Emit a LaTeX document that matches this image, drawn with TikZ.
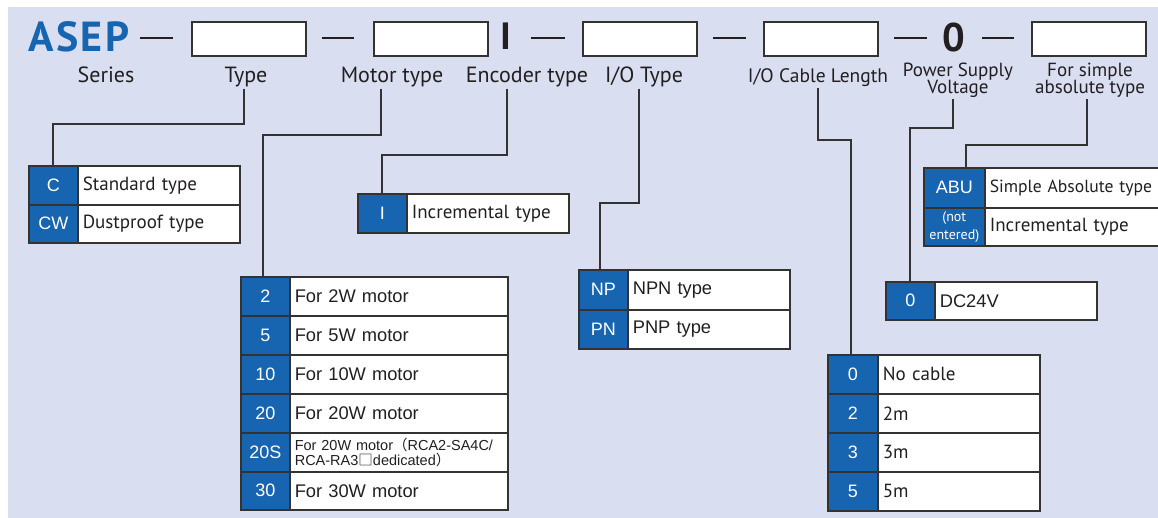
\documentclass[tikz,border=0pt]{standalone}
\usepackage{fontspec}
\setmainfont{PT Sans}
\newfontfamily\hv{Liberation Sans}
\newfontfamily\cjk{Noto Sans CJK JP}
\definecolor{bg}{HTML}{D9DEF0}
\definecolor{ib}{HTML}{1765B0}
\definecolor{bd}{HTML}{333333}
\definecolor{tx}{HTML}{231F20}
\tikzset{
  x=1pt, y=-1pt,
  codecell/.style={draw=bd, line width=1.6pt, fill=ib, text=white, inner sep=0pt, anchor=north west, align=center, font=\hv\fontsize{18}{19}\selectfont},
  desccell/.style={draw=bd, line width=1.6pt, fill=white, text=tx, inner xsep=5pt, inner ysep=0pt, anchor=north west, align=left},
  mbox/.style={draw=bd, line width=1.6pt, fill=white, anchor=north west, inner sep=0pt, minimum width=114pt, minimum height=34pt},
  dsh/.style={draw=tx, line width=1.8pt},
  lbl/.style={text=tx, inner sep=1pt, anchor=base, font=\fontsize{22}{24}\selectfont},
  conn/.style={draw=bd, line width=1.4pt},
  pf/.style={font=\fontsize{19}{20}\selectfont},
  hf/.style={font=\hv\fontsize{18.3}{19}\selectfont},
}
\newcommand\trow[9]{%
  \pgfmathsetmacro\tw{#5-#4-10}%
  \node[codecell, minimum width=#4pt, minimum height=#6pt] (#1c) at (#2,#3) {#7};
  \node[desccell, #9, text width=\tw pt, minimum height=#6pt] (#1d) at (#2+#4,#3) {#8};
}
\begin{document}
\begin{tikzpicture}
\useasboundingbox (0,0) rectangle (1158,518);
\fill[bg] (8,7) rectangle (1158,518);
% header
\node[anchor=base west, inner sep=0pt, text=ib, font=\bfseries\fontsize{42}{44}\selectfont] (asep) at (28,52) {A\kern2.5pt S\kern2.5pt E\kern2.5pt P};
\coordinate (d1a) at (140,38); \coordinate (d1b) at (173,38);
\draw[dsh] (d1a) -- (d1b);
\node[mbox] (b1) at (191,21) {};
\coordinate (d2a) at (322,38); \coordinate (d2b) at (354,38);
\draw[dsh] (d2a) -- (d2b);
\node[mbox] (b2) at (373,21) {};
\node[anchor=base, inner sep=0pt, text=tx, font=\bfseries\fontsize{38}{40}\selectfont] (encI) at (506,50) {I};
\coordinate (d3a) at (531,38); \coordinate (d3b) at (565,38);
\draw[dsh] (d3a) -- (d3b);
\node[mbox] (b3) at (582,21) {};
\coordinate (d4a) at (713,38); \coordinate (d4b) at (746,38);
\draw[dsh] (d4a) -- (d4b);
\node[mbox] (b4) at (763,21) {};
\coordinate (d5a) at (894,38); \coordinate (d5b) at (927,38);
\draw[dsh] (d5a) -- (d5b);
\node[anchor=base, inner sep=0pt, text=tx, font=\bfseries\fontsize{40}{42}\selectfont] (pw0) at (954,52) {0};
\coordinate (d6a) at (982,38); \coordinate (d6b) at (1014,38);
\draw[dsh] (d6a) -- (d6b);
\node[mbox] (b5) at (1031,21) {};
% labels
\node[lbl] (lSeries) at (106,83) {Series};
\node[lbl] (lType) at (246,83) {Type};
\node[lbl] (lMotor) at (392,83) {Motor type};
\node[lbl] (lEnc) at (527,83) {Encoder type};
\node[lbl] (lIO) at (644,83) {I/O Type};
\node[lbl, font=\fontsize{19.5}{21}\selectfont] (lCable) at (818,83) {I/O Cable Length};
\node[lbl, font=\fontsize{19}{16}\selectfont, align=center] (lPow) at (958,94) {Power Supply\\[-1pt]Voltage};
\node[lbl, font=\fontsize{19}{16}\selectfont, align=center] (lAbs) at (1090,94) {For simple\\[-1pt]absolute type};
% tables
\trow{ta}{28}{165}{49}{211}{39}{C}{Standard type}{pf}
\trow{tb}{28}{204}{49}{211}{38}{CW}{Dustproof type}{pf}
\trow{ea}{357}{193}{49}{211}{39}{I}{Incremental type}{pf}
\trow{ma}{240}{276}{49}{267}{39}{2}{For 2W motor}{hf}
\trow{mb}{240}{315}{49}{267}{39}{5}{For 5W motor}{hf}
\trow{mc}{240}{354}{49}{267}{39}{10}{For 10W motor}{hf}
\trow{md}{240}{393}{49}{267}{39}{20}{For 20W motor}{hf}
\trow{me}{240}{432}{49}{267}{39}{20S}{For 20W motor{\cjk （}RCA2-SA4C/\\RCA-RA3{\cjk □}dedicated{\cjk ）}}{font=\hv\fontsize{14.5}{15}\selectfont}
\trow{mf}{240}{471}{49}{267}{38}{30}{For 30W motor}{hf}
\trow{ia}{578}{269}{49}{211}{40}{NP}{NPN type}{hf}
\trow{ib}{578}{309}{49}{211}{39}{PN}{PNP type}{hf}
\trow{ca}{827}{354}{50}{212}{39}{0}{No cable}{pf}
\trow{cb}{827}{393}{50}{212}{39}{2}{2m}{pf}
\trow{cc}{827}{432}{50}{212}{39}{3}{3m}{pf}
\trow{cd}{827}{471}{50}{212}{39}{5}{5m}{pf}
\trow{aa}{923}{167}{61}{260}{40}{ABU}{Simple Absolute type}{font=\fontsize{17.6}{19}\selectfont}
\trow{ab}{923}{207}{61}{260}{38}{\fontsize{14}{14}\selectfont\rmfamily(not\\[-1pt]\fontsize{14}{14}\selectfont\rmfamily entered)}{Incremental type}{pf}
\trow{pa}{885}{281}{49}{211}{38}{0}{DC24V}{hf}
% connectors
\coordinate (kType) at (53,124);
\draw[conn] ([xshift=-2pt]lType.south) |- (kType) -- (kType |- tac.north);
\coordinate (kMotor) at (263,135);
\draw[conn] ([xshift=-11pt]lMotor.south) |- (kMotor) -- (kMotor |- mac.north);
\coordinate (kEnc) at (382,155);
\draw[conn] ([xshift=-20pt]lEnc.south) |- (kEnc) -- (kEnc |- eac.north);
\coordinate (kIO) at (600,203);
\draw[conn] ([xshift=-5pt]lIO.south) |- (kIO) -- (kIO |- iac.north);
\coordinate (kCable) at (851,140);
\draw[conn] (lCable.south) |- (kCable) -- (kCable |- cac.north);
\coordinate (kPow) at (910,128);
\draw[conn] ([xshift=-5pt]lPow.south) |- (kPow) -- (kPow |- pac.north);
\coordinate (kAbs) at (966,145);
\draw[conn] ([xshift=-3pt]lAbs.south) |- (kAbs) -- (kAbs |- aac.north);
\end{tikzpicture}
\end{document}
